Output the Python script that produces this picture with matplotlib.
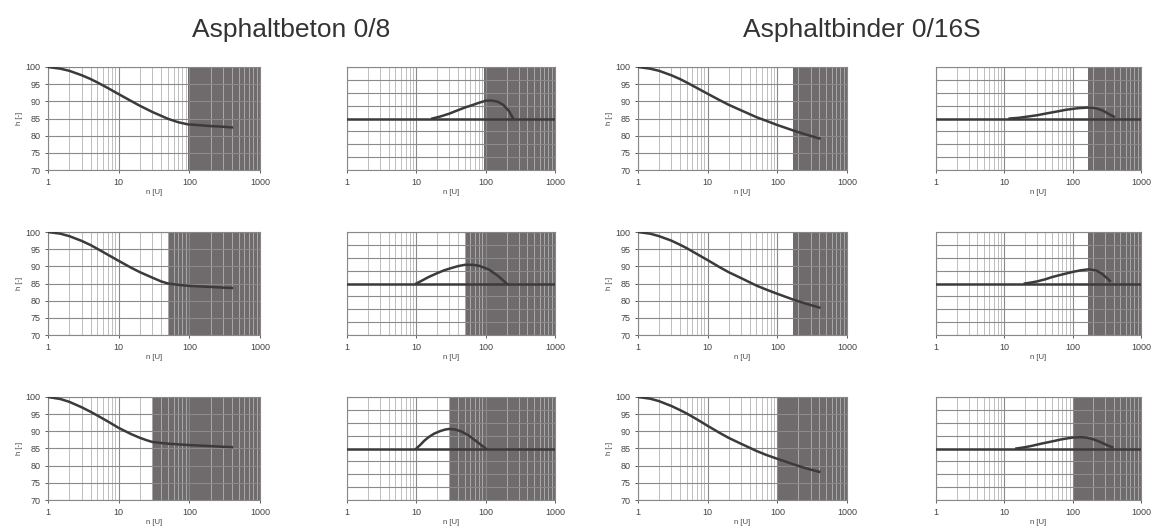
import numpy as np
import matplotlib.pyplot as plt
from matplotlib.ticker import FixedLocator, LogLocator, NullFormatter

plt.rcParams['font.family'] = ['Liberation Sans', 'DejaVu Sans']

titles = ["Asphaltbeton 0/8", "Asphaltbinder 0/16S"]

# Verdichtungskurven h [-] ueber n [U] (links je Mischgut)
n_ab = [[1, 1.5, 2, 3, 4, 5, 7, 10, 15, 20, 30, 50, 70, 95, 150, 200, 300, 400],
        [1, 1.5, 2, 3, 4, 5, 7, 10, 15, 20, 30, 40, 50, 70, 100, 200, 300, 400],
        [1, 1.5, 2, 3, 4, 5, 7, 10, 15, 20, 25, 30, 40, 50, 100, 200, 300, 400]]
h_ab = [[100, 99.5, 98.9, 97.6, 96.5, 95.5, 93.9, 92.1, 90.1, 88.7, 86.9, 84.9,
         83.9, 83.3, 83.0, 82.8, 82.6, 82.4],
        [100, 99.5, 98.8, 97.4, 96.2, 95.1, 93.4, 91.6, 89.6, 88.3, 86.7, 85.6,
         85.0, 84.6, 84.3, 84.0, 83.8, 83.7],
        [100, 99.4, 98.6, 97.0, 95.7, 94.6, 92.9, 91.0, 89.2, 88.1, 87.4, 86.9,
         86.6, 86.4, 86.0, 85.7, 85.5, 85.4]]
n_bi = [[1, 1.5, 2, 3, 4, 5, 7, 10, 15, 20, 30, 50, 70, 100, 170, 250, 400],
        [1, 1.5, 2, 3, 4, 5, 7, 10, 15, 20, 30, 50, 70, 100, 170, 250, 400],
        [1, 1.5, 2, 3, 4, 5, 7, 10, 15, 20, 30, 50, 70, 100, 170, 250, 400]]
h_bi = [[100, 99.5, 98.9, 97.6, 96.5, 95.5, 93.9, 92.2, 90.3, 89.0, 87.4, 85.4,
         84.3, 83.1, 81.5, 80.4, 79.2],
        [100, 99.5, 98.8, 97.5, 96.3, 95.3, 93.6, 91.8, 89.7, 88.3, 86.6, 84.4,
         83.2, 82.0, 80.3, 79.2, 78.0],
        [100, 99.5, 98.8, 97.4, 96.2, 95.2, 93.5, 91.6, 89.5, 88.1, 86.4, 84.3,
         83.1, 82.0, 80.4, 79.3, 78.2]]

# Abweichungskurven (rechts je Mischgut)
dn_ab = [[17, 22, 30, 40, 50, 65, 80, 100, 120, 150, 180, 215, 250],
         [10, 12, 15, 20, 25, 32, 40, 50, 65, 80, 110, 150, 200],
         [10, 11.5, 13, 15, 18, 22, 26, 30, 36, 45, 58, 75, 100]]
dh_ab = [[0, 0.15, 0.38, 0.65, 0.85, 1.05, 1.22, 1.38, 1.4, 1.3, 1.05, 0.6, 0],
         [0, 0.22, 0.5, 0.8, 1.02, 1.2, 1.35, 1.45, 1.45, 1.38, 1.1, 0.6, 0],
         [0, 0.3, 0.6, 0.88, 1.15, 1.35, 1.47, 1.52, 1.48, 1.32, 0.98, 0.52, 0]]
dn_bi = [[12, 16, 20, 30, 40, 60, 80, 120, 170, 220, 280, 350, 400],
         [20, 25, 30, 40, 50, 70, 100, 130, 170, 220, 270, 320, 350],
         [15, 20, 25, 35, 50, 70, 100, 130, 160, 200, 260, 330, 380]]
dh_bi = [[0, 0.05, 0.12, 0.25, 0.38, 0.55, 0.68, 0.8, 0.85, 0.8, 0.6, 0.3, 0.15],
         [0, 0.08, 0.16, 0.33, 0.5, 0.7, 0.9, 1.02, 1.1, 1.02, 0.75, 0.4, 0.2],
         [0, 0.1, 0.2, 0.38, 0.55, 0.72, 0.85, 0.88, 0.85, 0.72, 0.48, 0.22, 0.1]]

# Beginn des dunklen Bereichs
shade_ab = [95, 50, 30]
shade_bi = [170, 170, 100]

W, H = 1154, 531
fig = plt.figure(figsize=(W / 100, H / 100), dpi=100)

col_x = [(48, 260), (347, 555), (638, 847), (936, 1141)]
row_y = [(67, 170), (232, 335), (397, 500)]

line_col = '#3c3a3c'
shade_col = '#6f6a6c'


def make_ax(col, row):
    x0, x1 = col_x[col]
    y0, y1 = row_y[row]
    ax = fig.add_axes([x0 / W, 1 - y1 / H, (x1 - x0) / W, (y1 - y0) / H])
    ax.set_xscale('log')
    ax.set_xlim(1, 1000)
    ax.xaxis.set_major_locator(FixedLocator([1, 10, 100, 1000]))
    ax.set_xticklabels(['1', '10', '100', '1000'])
    ax.xaxis.set_minor_locator(LogLocator(base=10, subs=np.arange(2, 10)))
    ax.xaxis.set_minor_formatter(NullFormatter())
    ax.set_axisbelow(True)
    ax.grid(True, which='major', color='#8a8a8a', lw=0.8)
    ax.grid(True, which='minor', axis='x', color='#b4b4b4', lw=0.6)
    ax.tick_params(labelsize=6.5, colors='#444444', length=2, width=0.6,
                   which='both')
    ax.tick_params(which='minor', length=0)
    for s in ax.spines.values():
        s.set_color('#888888')
        s.set_linewidth(0.8)
    ax.set_xlabel('n [U]', fontsize=5.5, color='#444444', labelpad=2)
    return ax


for r in range(3):
    for k, (nn, hh, dn, dh, sh) in enumerate([
            (n_ab[r], h_ab[r], dn_ab[r], dh_ab[r], shade_ab[r]),
            (n_bi[r], h_bi[r], dn_bi[r], dh_bi[r], shade_bi[r])]):
        ax = make_ax(2 * k, r)
        ax.axvspan(sh, 1000, color=shade_col, zorder=0.2, lw=0)
        ax.plot(nn, hh, color=line_col, lw=1.8, zorder=3)
        ax.set_ylim(70, 100)
        ax.set_yticks(np.arange(70, 101, 5))
        ax.set_ylabel('h [-]', fontsize=5.5, color='#444444', labelpad=2)

        ax2 = make_ax(2 * k + 1, r)
        ax2.axvspan(sh, 1000, color=shade_col, zorder=0.2, lw=0)
        ax2.axhline(0, color=line_col, lw=1.8, zorder=3)
        ax2.plot(dn, dh, color=line_col, lw=1.8, zorder=3)
        ax2.set_ylim(-4, 4)
        ax2.set_yticks(np.arange(-4, 5, 1))
        ax2.set_yticklabels([])
        ax2.tick_params(axis='y', length=0)

fig.text(291 / W, 1 - 30 / H, titles[0], ha='center', va='center',
         fontsize=19, color='#333333')
fig.text(862 / W, 1 - 30 / H, titles[1], ha='center', va='center',
         fontsize=19, color='#333333')

fig.savefig('out.png', dpi=100)
